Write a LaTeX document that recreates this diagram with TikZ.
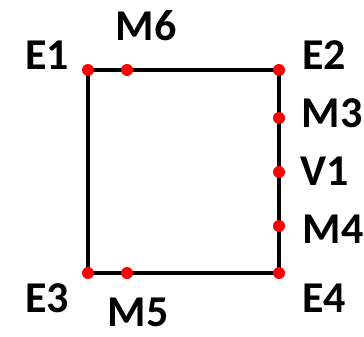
\documentclass[tikz,border=0pt]{standalone}
\usepackage{fontspec}
\setmainfont{Carlito}
\begin{document}
\begin{tikzpicture}[x=1pt,y=-1pt,
  lbl/.style={inner sep=0pt,font=\fontsize{44}{44}\selectfont\bfseries},
  pt/.style={circle,fill=red,inner sep=0pt,minimum size=12pt}]
\useasboundingbox (0,0) rectangle (364,337);
\coordinate (e1) at (88,70);
\coordinate (e2) at (279,70);
\coordinate (e3) at (88,273);
\coordinate (e4) at (279,273);
\draw[line width=3.5pt] (e1) -- (e2) -- (e4) -- (e3) -- cycle;
\node[pt] (E1) at (e1) {};
\node[pt] (E2) at (e2) {};
\node[pt] (E3) at (e3) {};
\node[pt] (E4) at (e4) {};
\node[pt] (M6) at (127,70) {};
\node[pt] (M5) at (127,273) {};
\node[pt] (M3) at (279,118) {};
\node[pt] (V1) at (279,172) {};
\node[pt] (M4) at (279,226) {};
\node[lbl] (tE1) at (47,55) {E1};
\node[lbl] (tM6) at (146,26) {M6};
\node[lbl] (tE2) at (324,55) {E2};
\node[lbl] (tM3) at (332,113) {M3};
\node[lbl] (tV1) at (325,171) {V1};
\node[lbl] (tM4) at (333,229) {M4};
\node[lbl] (tE3) at (47,298) {E3};
\node[lbl] (tM5) at (138,312) {M5};
\node[lbl] (tE4) at (324,298) {E4};
\end{tikzpicture}
\end{document}
